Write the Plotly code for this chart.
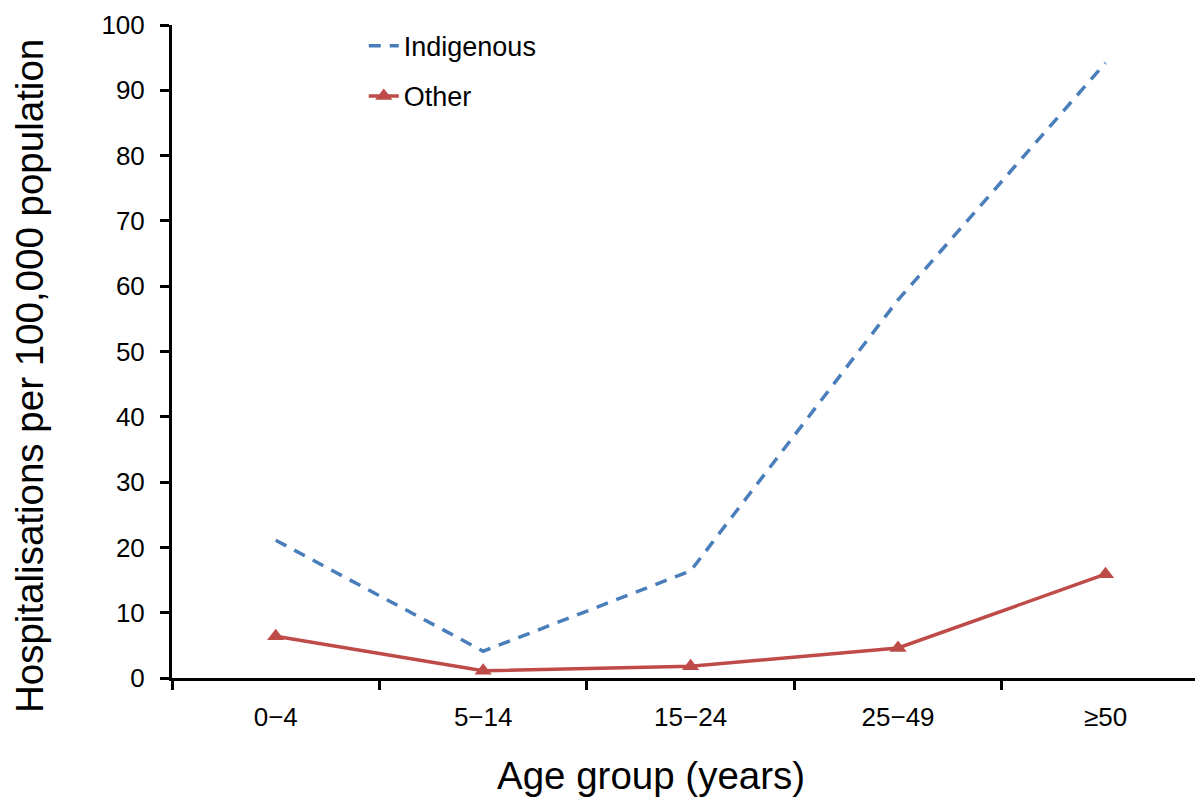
import plotly.graph_objects as go

age_groups = ["0\u22124", "5\u221214", "15\u221224", "25\u221249", "\u226550"]
indigenous = [21.1, 4.1, 16.4, 57.9, 94.2]
other = [6.4, 1.1, 1.8, 4.6, 15.9]
y_ticks = list(range(0, 101, 10))

FONT = "Liberation Sans, Arial, sans-serif"

fig = go.Figure()
fig.add_trace(go.Scatter(
    x=age_groups, y=indigenous, name="Indigenous", mode="lines",
    line=dict(color="#4a7ebb", width=3.5, dash="12px,9px"),
    legendgroup="a"))
fig.add_trace(go.Scatter(
    x=age_groups, y=other, name="Other", mode="lines+markers",
    line=dict(color="#be4b48", width=3.5),
    marker=dict(symbol="triangle-up", size=15, color="#be4b48"),
    legendgroup="b"))

fig.update_layout(
    width=1195, height=792,
    margin=dict(l=164, r=0, t=17, b=122),
    paper_bgcolor="white", plot_bgcolor="white",
    font=dict(family=FONT, size=26, color="black"),
    showlegend=True,
    legend=dict(x=0.186, y=1.005, xanchor="left", yanchor="top",
                font=dict(size=27), tracegroupgap=12, bgcolor="rgba(0,0,0,0)"),
    xaxis=dict(
        type="category", range=[-0.5, 4.47], tickson="boundaries",
        ticks="outside", ticklen=9, tickwidth=3, tickcolor="black",
        showline=True, linecolor="black", linewidth=3,
        showgrid=False, zeroline=False, ticklabelstandoff=14,
        tickfont=dict(size=26), automargin=False,
    ),
    yaxis=dict(
        range=[0, 100], tickvals=y_ticks,
        ticks="outside", ticklen=9, tickwidth=3, tickcolor="black",
        showline=True, linecolor="black", linewidth=3,
        showgrid=False, zeroline=False, ticklabelstandoff=10,
        tickfont=dict(size=26), automargin=False,
    ),
    annotations=[
        dict(text="Age group (years)", xref="paper", yref="paper",
             x=0.465, y=-0.113, xanchor="center", yanchor="top",
             showarrow=False, font=dict(size=38.5)),
        dict(text="Hospitalisations per 100,000 population", xref="paper", yref="paper",
             x=-0.1377, y=0.4625, xanchor="center", yanchor="middle", textangle=-90,
             showarrow=False, font=dict(size=38.5)),
    ],
)

fig.write_html("out.html")
